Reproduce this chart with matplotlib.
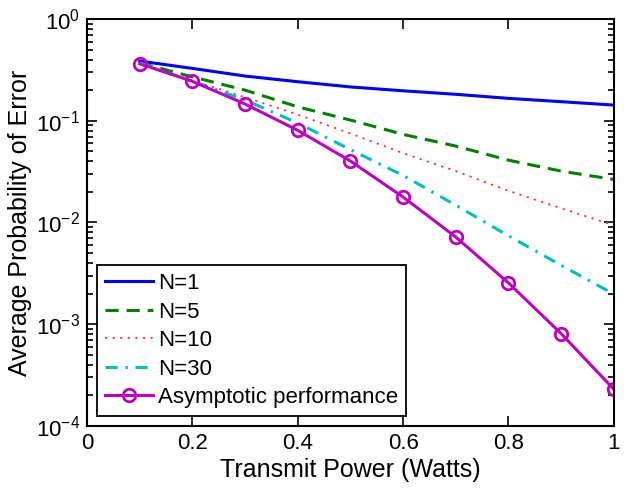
import matplotlib
matplotlib.use("Agg")
import matplotlib.pyplot as plt
from matplotlib.ticker import LogLocator, NullFormatter

plt.rcParams['font.family'] = ['Liberation Sans', 'DejaVu Sans']
plt.rcParams['mathtext.fontset'] = 'custom'
plt.rcParams['mathtext.rm'] = 'Liberation Sans'

x = [0.1, 0.2, 0.3, 0.4, 0.5, 0.6, 0.7, 0.8, 0.9, 1.0]
n1 = [0.386, 0.327, 0.275, 0.242, 0.215, 0.197, 0.182, 0.166, 0.154, 0.1426]
n5 = [0.37, 0.27, 0.2, 0.137, 0.1016, 0.0735, 0.0564, 0.041, 0.032, 0.0265]
n10 = [0.37, 0.25, 0.17, 0.115, 0.075, 0.048, 0.032, 0.0205, 0.0138, 0.0094]
n30 = [0.37, 0.245, 0.16, 0.095, 0.052, 0.029, 0.0148, 0.0074, 0.0038, 0.00198]
asym = [0.363, 0.244, 0.146, 0.0805, 0.0402, 0.0178, 0.0072, 0.00255, 0.00081, 0.00023]

labels = ['N=1', 'N=5', 'N=10', 'N=30', 'Asymptotic performance']

fig = plt.figure(figsize=(6.36, 4.94), dpi=100)
ax = fig.add_axes([0.137, 0.1377, 0.828, 0.8238])

ax.semilogy(x, n1, color=(0, 0, 1), lw=2.2, ls='-', label=labels[0])
ax.semilogy(x, n5, color=(0, 0.5, 0), lw=2.2, ls=(0, (4.3, 2.6)), label=labels[1])
ax.semilogy(x, n10, color=(1, 0.2, 0.2), lw=1.3, ls=(0, (1.2, 3)), label=labels[2])
ax.semilogy(x, n30, color=(0, 0.75, 0.75), lw=2.2, ls=(0, (4, 2.5, 0.8, 2.5)), label=labels[3])
ax.semilogy(x, asym, color=(0.75, 0, 0.75), lw=2.2, ls='-', marker='o', ms=9,
            mfc='none', mew=2, label=labels[4])

ax.set_xlim(0, 1)
ax.set_ylim(1e-4, 1)
ax.set_xticks([0, 0.2, 0.4, 0.6, 0.8, 1])
ax.set_xticklabels(['0', '0.2', '0.4', '0.6', '0.8', '1'])
ax.yaxis.set_major_locator(LogLocator(base=10, numticks=10))
ax.yaxis.set_minor_locator(LogLocator(base=10, subs=range(2, 10), numticks=20))
ax.yaxis.set_minor_formatter(NullFormatter())

ax.tick_params(which='both', direction='in', top=True, right=True, width=1.2,
               labelsize=16, pad=5)
ax.tick_params(which='major', length=7)
ax.tick_params(which='minor', length=4)
for s in ax.spines.values():
    s.set_linewidth(1.5)

ax.set_xlabel('Transmit Power (Watts)', fontsize=18, labelpad=3)
ax.set_ylabel('Average Probability of Error', fontsize=18, labelpad=3)

leg = ax.legend(loc='lower left', fontsize=16, frameon=True, fancybox=False,
                framealpha=1, edgecolor='black', handlelength=2.16,
                handletextpad=0.25, labelspacing=0.34, borderpad=0.35,
                borderaxespad=0.45)
leg.get_frame().set_linewidth(1.3)

fig.savefig('out.png', dpi=100)
